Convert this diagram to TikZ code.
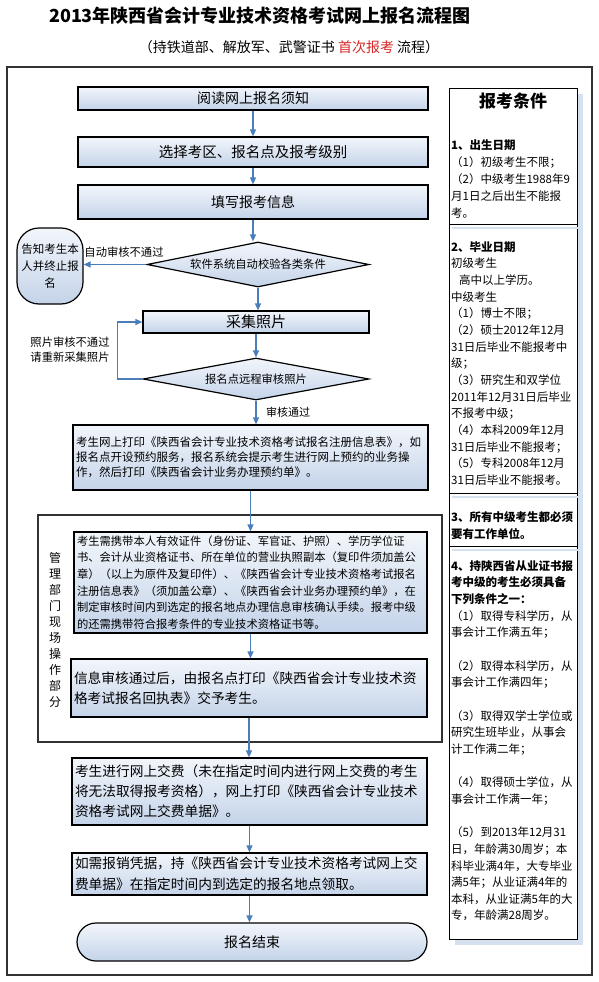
\documentclass[tikz,border=0pt]{standalone}
\usepackage{fontspec}
\setmainfont{Noto Sans CJK SC}
\usetikzlibrary{shapes.geometric,arrows.meta}
\definecolor{boxtop}{RGB}{242,246,251}
\definecolor{boxbot}{RGB}{196,211,233}
\definecolor{arrowblue}{RGB}{74,126,187}
\definecolor{shadowblue}{RGB}{214,225,240}
\definecolor{titlered}{RGB}{215,40,40}
\definecolor{framegray}{RGB}{50,50,50}
\newcommand{\fs}[2]{\fontsize{#1}{#2}\selectfont}
\begin{document}
\begin{tikzpicture}[x=1pt,y=-1pt,
  fbox/.style={draw=black, line width=1.2pt, top color=boxtop, bottom color=boxbot, rectangle, inner sep=0pt},
  tbox/.style={fbox, align=left, inner xsep=3pt, inner ysep=0pt},
  dbox/.style={fbox, diamond, aspect=4.9},
  arr/.style={draw=arrowblue, line width=1.3pt, -{Triangle[length=7pt,width=6pt]}},
  lbl/.style={inner sep=0pt, font=\fs{11.3}{15}},
  ptext/.style={anchor=north west, inner sep=0pt, align=left, font=\fs{11.5}{16.65}}
]
\useasboundingbox (0,0) rectangle (599,982);
\fill[white] (0,0) rectangle (599,982);

% titles
\node[font=\bfseries\fs{18}{20}] (title) at (260,16) {2013年陕西省会计专业技术资格考试网上报名流程图};
\node[font=\fs{14}{16}] (sub) at (289,47) {（持铁道部、解放军、武警证书 \textcolor{titlered}{首次报考} 流程）};

% outer frame
\node[draw=framegray, line width=1.5pt, minimum width=585, minimum height=908, inner sep=0pt] (outer) at (299.5,521) {};

% right panel
\fill[shadowblue] (455,94) rectangle (583,945);
\node[draw=black, fill=white, line width=0.8pt, minimum width=128, minimum height=851, inner sep=0pt] (panel) at (513,513.5) {};
\draw[line width=0.8pt] (449,224) -- (577,224);
\draw[line width=0.8pt] (449,493) -- (577,493);
\draw[line width=0.8pt] (449,546) -- (577,546);
\draw[shadowblue, line width=2pt] (452,228) -- (583,228);
\draw[shadowblue, line width=2pt] (452,497) -- (583,497);
\draw[shadowblue, line width=2pt] (452,550) -- (583,550);
\node[font=\bfseries\fs{17}{20}] (ptitle) at (513,101) {报考条件};
\node[ptext, font=\fs{11.5}{17}] (s1) at (451,139.3) {\textbf{1、出生日期}\\（1）初级考生不限；\\（2）中级考生1988年9\\月1日之后出生不能报\\考。};
\node[ptext] (s2) at (451,241.3) {\textbf{2、毕业日期}\\初级考生\\\hspace{8pt}高中以上学历。\\中级考生\\（1）博士不限；\\（2）硕士2012年12月\\31日后毕业不能报考中\\级；\\（3）研究生和双学位\\2011年12月31日后毕业\\不报考中级；\\（4）本科2009年12月\\31日后毕业不能报考；\\（5）专科2008年12月\\31日后毕业不能报考。};
\node[ptext] (s3) at (451,511.3) {\textbf{3、所有中级考生都必须}\\\textbf{要有工作单位。}};
\node[ptext] (s4) at (451,560.3) {\textbf{4、持陕西省从业证书报}\\\textbf{考中级的考生必须具备}\\\textbf{下列条件之一：}\\（1）取得专科学历，从\\事会计工作满五年；\\[16.65pt]（2）取得本科学历，从\\事会计工作满四年；\\[16.65pt]（3）取得双学士学位或\\研究生班毕业，从事会\\计工作满二年；\\[16.65pt]（4）取得硕士学位，从\\事会计工作满一年；\\[16.65pt]（5）到2013年12月31\\日，年龄满30周岁；本\\科毕业满4年，大专毕业\\满5年；从业证满4年的\\本科，从业证满5年的大\\专，年龄满28周岁。};

% management frame
\node[draw=framegray, line width=2pt, minimum width=404, minimum height=227, inner sep=0pt] (mgmt) at (240,628.5) {};
\node[align=center, inner sep=0pt, font=\fs{12}{16}] (mlabel) at (55,630) {管\\理\\部\\门\\现\\场\\操\\作\\部\\分};

% flow nodes
\node[fbox, minimum width=350, minimum height=23, font=\fs{14}{16}] (b1) at (253,98.5) {阅读网上报名须知};
\node[fbox, minimum width=350, minimum height=30, font=\fs{14.5}{17}] (b2) at (253,152) {选择考区、报名点及报考级别};
\node[fbox, minimum width=350, minimum height=34, font=\fs{14}{16}] (b3) at (253,202) {填写报考信息};
\node[dbox, minimum width=222, minimum height=45, font=\fs{11.3}{13}] (d1) at (258,264.5) {软件系统自动校验各类条件};
\node[fbox, rounded corners=22pt, minimum width=66, minimum height=76, align=center, font=\fs{11.5}{17}] (t1) at (50,266) {告知考生本\\人并终止报\\名};
\node[fbox, minimum width=226, minimum height=22, font=\fs{15}{17}] (p) at (256,322) {采集照片};
\node[dbox, minimum width=226, minimum height=42, font=\fs{11.3}{13}] (d2) at (256,379) {报名点远程审核照片};
\node[tbox, text width=349pt, minimum height=65, font=\fs{11.5}{15}] (b4) at (250.5,457.5) {考生网上打印《陕西省会计专业技术资格考试报名注册信息表》，如\\报名点开设预约服务，报名系统会提示考生进行网上预约的业务操\\作，然后打印《陕西省会计业务办理预约单》。};
\node[tbox, text width=347pt, minimum height=101, font=\fs{11.3}{16.7}] (m1) at (250.5,582.5) {考生需携带本人有效证件（身份证、军官证、护照）、学历学位证\\书、会计从业资格证书、所在单位的营业执照副本（复印件须加盖公\\章）（以上为原件及复印件）、《陕西省会计专业技术资格考试报名\\注册信息表》（须加盖公章）、《陕西省会计业务办理预约单》，在\\制定审核时间内到选定的报名地点办理信息审核确认手续。报考中级\\的还需携带符合报考条件的专业技术资格证书等。};
\node[tbox, text width=350pt, minimum height=58, font=\fs{13.7}{20}] (m2) at (249,688) {信息审核通过后，由报名点打印《陕西省会计专业技术资\\格考试报名回执表》交予考生。};
\node[tbox, text width=349pt, minimum height=67, font=\fs{13.7}{20}] (b5) at (249.5,791.5) {考生进行网上交费（未在指定时间内进行网上交费的考生\\将无法取得报考资格），网上打印《陕西省会计专业技术\\资格考试网上交费单据》。};
\node[tbox, text width=349pt, minimum height=42, font=\fs{13.7}{21}] (b6) at (249.5,874) {如需报销凭据，持《陕西省会计专业技术资格考试网上交\\费单据》在指定时间内到选定的报名地点领取。};
\node[fbox, rounded corners=19pt, minimum width=350, minimum height=38, font=\fs{14}{16}] (endn) at (252,942) {报名结束};

% labels
\node[lbl] (l1) at (124,252) {自动审核不通过};
\node[lbl, align=center] (l2) at (70,349.5) {照片审核不通过\\请重新采集照片};
\node[lbl, font=\fs{11}{13}] (l3) at (288,412) {审核通过};

% connectors
\draw[arr] (b1.south) -- (b2.north);
\draw[arr] (b2.south) -- (b3.north);
\draw[arr] (b3.south) -- (b3.south |- d1.north);
\draw[arr] (d1.west) -- (d1.west -| t1.east);
\draw[arr] (d1.south) -- (d1.south |- p.north);
\draw[arr] (p.south) -- (p.south |- d2.north);
\draw[arr] (d2.west) -- ++(-25,0) |- (p.west);
\draw[arr] (d2.south) -- (d2.south |- b4.north);
\draw[arr] (b4.south) -- (b4.south |- m1.north);
\draw[arr] (m1.south) -- (m1.south |- m2.north);
\draw[arr] (m2.south) -- (m2.south |- b5.north);
\draw[arr] (b5.south) -- (b5.south |- b6.north);
\draw[arr] (b6.south) -- (b6.south |- endn.north);
\end{tikzpicture}
\end{document}
